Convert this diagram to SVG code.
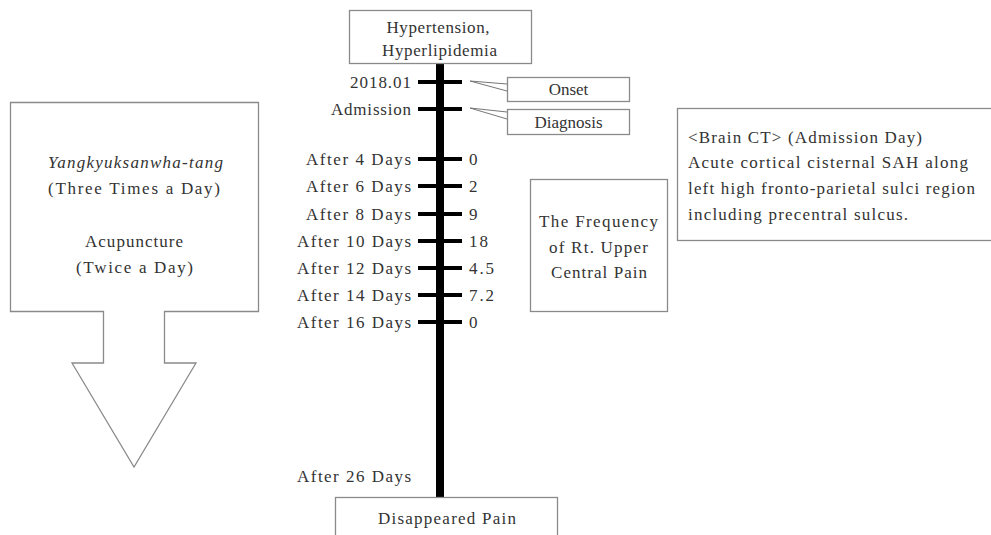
<svg xmlns="http://www.w3.org/2000/svg" width="991" height="535" viewBox="0 0 991 535">
<style>
.box{fill:#fff;stroke:#8a8a8a;stroke-width:1.3}
.t{font-family:"Liberation Serif","DejaVu Serif",serif;font-size:17px;fill:#333}
.m{text-anchor:middle}
.e{text-anchor:end}
.tick{stroke:#000;stroke-width:4}
.call{fill:none;stroke:#777;stroke-width:1}
</style>
<rect width="991" height="535" fill="#fff"/>
<g id="treatment">
<path class="box" d="M10.5,102.5 H258.5 V311.5 H164.5 V363 H196 L134,467 L72,363 H103.5 V311.5 H10.5 Z"/>
<text class="t m" x="135.5" y="168" font-style="italic" textLength="175" lengthAdjust="spacing">Yangkyuksanwha-tang</text>
<text class="t m" x="134" y="194" textLength="172" lengthAdjust="spacing">(Three Times a Day)</text>
<text class="t m" x="134" y="247" textLength="98" lengthAdjust="spacing">Acupuncture</text>
<text class="t m" x="134.5" y="273" textLength="117" lengthAdjust="spacing">(Twice a Day)</text>
</g>
<g id="connectors">
<rect x="436" y="63" width="8" height="434" fill="#000"/>
<line class="tick" x1="418" y1="82" x2="462" y2="82"/>
<line class="tick" x1="418" y1="109" x2="462" y2="109"/>
<line class="tick" x1="418" y1="159" x2="462" y2="159"/>
<line class="tick" x1="418" y1="186" x2="462" y2="186"/>
<line class="tick" x1="418" y1="214" x2="462" y2="214"/>
<line class="tick" x1="418" y1="241" x2="462" y2="241"/>
<line class="tick" x1="418" y1="268" x2="462" y2="268"/>
<line class="tick" x1="418" y1="295" x2="462" y2="295"/>
<line class="tick" x1="418" y1="322" x2="462" y2="322"/>
<polyline class="call" points="507,84 470,81 507,91"/>
<polyline class="call" points="507,112 470,108 507,119"/>
</g>
<g id="top">
<rect class="box" x="349.5" y="10.5" width="182" height="53"/>
<text class="t m" x="438" y="33" textLength="103" lengthAdjust="spacing">Hypertension,</text>
<text class="t m" x="439.5" y="56" textLength="115" lengthAdjust="spacing">Hyperlipidemia</text>
</g>
<g id="labels">
<text class="t e" x="411" y="88" textLength="61" lengthAdjust="spacing">2018.01</text>
<text class="t e" x="411" y="115" textLength="80" lengthAdjust="spacing">Admission</text>
<text class="t e" x="411" y="165" textLength="105" lengthAdjust="spacing">After 4 Days</text>
<text class="t e" x="411" y="192" textLength="105" lengthAdjust="spacing">After 6 Days</text>
<text class="t e" x="411" y="220" textLength="105" lengthAdjust="spacing">After 8 Days</text>
<text class="t e" x="411" y="247" textLength="114" lengthAdjust="spacing">After 10 Days</text>
<text class="t e" x="411" y="274" textLength="114" lengthAdjust="spacing">After 12 Days</text>
<text class="t e" x="411" y="301" textLength="114" lengthAdjust="spacing">After 14 Days</text>
<text class="t e" x="411" y="328" textLength="114" lengthAdjust="spacing">After 16 Days</text>
<text class="t e" x="411" y="482" textLength="114" lengthAdjust="spacing">After 26 Days</text>
</g>
<g id="values">
<text class="t" x="469" y="165">0</text>
<text class="t" x="469" y="192">2</text>
<text class="t" x="469" y="220">9</text>
<text class="t" x="469" y="247" textLength="19" lengthAdjust="spacing">18</text>
<text class="t" x="469" y="274" textLength="25" lengthAdjust="spacing">4.5</text>
<text class="t" x="469" y="301" textLength="25" lengthAdjust="spacing">7.2</text>
<text class="t" x="469" y="328">0</text>
</g>
<g id="onset">
<rect class="box" x="507.5" y="77.5" width="122" height="24"/>
<text class="t m" x="568.5" y="95">Onset</text>
</g>
<g id="diagnosis">
<rect class="box" x="507.5" y="109.5" width="122" height="25"/>
<text class="t m" x="568.5" y="128">Diagnosis</text>
</g>
<g id="frequency">
<rect class="box" x="530.5" y="179.5" width="137" height="132"/>
<text class="t m" x="598.5" y="227" textLength="119" lengthAdjust="spacing">The Frequency</text>
<text class="t m" x="598.5" y="253" textLength="99" lengthAdjust="spacing">of Rt. Upper</text>
<text class="t m" x="599" y="278" textLength="96" lengthAdjust="spacing">Central Pain</text>
</g>
<g id="braint">
<rect class="box" x="677.5" y="108.5" width="320" height="132"/>
<text class="t" x="688" y="143" textLength="234" lengthAdjust="spacing">&lt;Brain CT&gt; (Admission Day)</text>
<text class="t" x="688" y="168" textLength="280" lengthAdjust="spacing">Acute cortical cisternal SAH along</text>
<text class="t" x="688" y="194" textLength="287" lengthAdjust="spacing">left high fronto-parietal sulci region</text>
<text class="t" x="688" y="220" textLength="220" lengthAdjust="spacing">including precentral sulcus.</text>
</g>
<g id="bottom">
<rect class="box" x="335.5" y="497.5" width="222" height="45"/>
<text class="t m" x="447" y="524" textLength="138" lengthAdjust="spacing">Disappeared Pain</text>
</g>
</svg>
